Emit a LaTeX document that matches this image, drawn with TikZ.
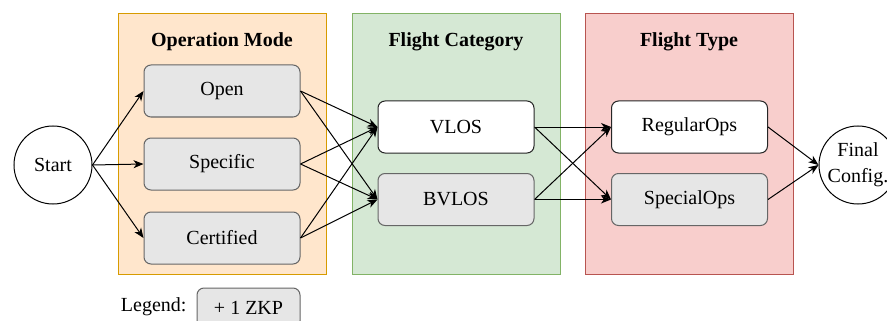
\documentclass[tikz,border=0pt]{standalone}
\usepackage{fontspec}
\setmainfont{Liberation Serif}
\usetikzlibrary{arrows.meta}
\definecolor{omfill}{HTML}{FFE6CC}\definecolor{omline}{HTML}{D79B00}
\definecolor{fcfill}{HTML}{D5E8D4}\definecolor{fcline}{HTML}{82B366}
\definecolor{ftfill}{HTML}{F8CECC}\definecolor{ftline}{HTML}{B85450}
\definecolor{zkpfill}{HTML}{E6E6E6}\definecolor{zkpline}{HTML}{666666}
\tikzset{
  txt/.style={font=\fontsize{20}{26}\selectfont},
  group/.style={draw=#1line, fill=#1fill, line width=1pt},
  title/.style={txt, font=\fontsize{20}{26}\selectfont\bfseries},
  opt/.style={txt, draw=black!85, fill=white, rounded corners=7pt, line width=1pt,
    minimum width=156pt, minimum height=52pt, inner sep=0pt},
  zkp/.style={opt, draw=zkpline, fill=zkpfill},
  endpoint/.style={txt, draw, circle, minimum size=78pt, inner sep=0pt, line width=1pt, align=center},
  flow/.style={line width=1pt, -{Stealth[length=10pt,width=8pt,inset=3pt]}}
}
\begin{document}
\begin{tikzpicture}[x=1pt, y=-1pt]
\useasboundingbox (0,0) rectangle (887,321);
% stage containers
\draw[group=om] (118,14) rectangle (326,274);
\draw[group=fc] (352,14) rectangle (560,274);
\draw[group=ft] (585,14) rectangle (793,274);
\node[title] (tom) at (222,42) {Operation Mode};
\node[title] (tfc) at (456,42) {Flight Category};
\node[title] (tft) at (689,42) {Flight Type};
% start and end
\node[endpoint] (start) at (53,165) {Start};
\node[endpoint] (final) at (858,165) {Final\\Config.};
% operation modes
\node[zkp] (open) at (222,91) {Open};
\node[zkp] (spec) at (222,164) {Specific};
\node[zkp] (cert) at (222,238) {Certified};
% flight categories
\node[opt] (vlos) at (456,127) {VLOS};
\node[zkp] (bvlos) at (456,199.5) {BVLOS};
% flight types
\node[opt] (reg) at (689.5,127) {RegularOps};
\node[zkp] (special) at (689.5,199.5) {SpecialOps};
% legend
\node[txt, anchor=east] (leg) at (190,307) {Legend:};
\node[zkp, minimum width=103pt, minimum height=40pt] (legbox) at (248.5,308) {+ 1 ZKP};
% connectors
\foreach \m in {open,spec,cert} {
  \draw[flow] (start.east) -- (\m.west);
  \draw[flow] (\m.east) -- (vlos.west);
  \draw[flow] (\m.east) -- (bvlos.west);
}
\foreach \c in {vlos,bvlos} {
  \draw[flow] (\c.east) -- (reg.west);
  \draw[flow] (\c.east) -- (special.west);
}
\draw[flow] (reg.east) -- (final.west);
\draw[flow] (special.east) -- (final.west);
\end{tikzpicture}
\end{document}
